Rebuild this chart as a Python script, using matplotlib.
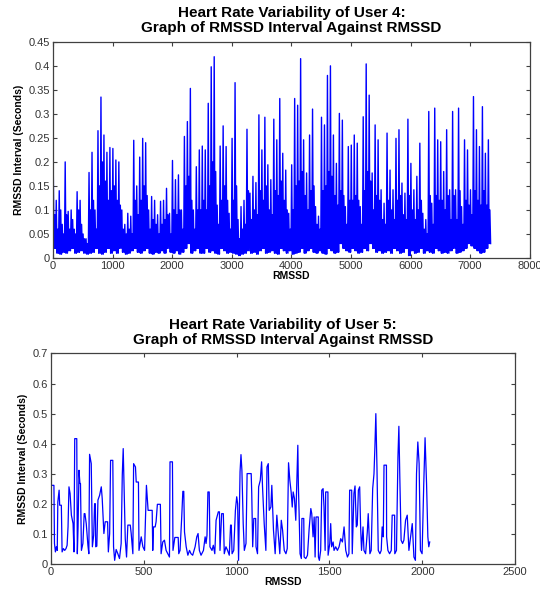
import numpy as np
import matplotlib
matplotlib.use("Agg")
import matplotlib.pyplot as plt

plt.rcParams['font.family'] = ['Liberation Sans', 'DejaVu Sans']

# ---------------- User 4: binned envelope (bins of 50 samples) ----------------
bin_width4 = 50
highs4 = [
    0.178, 0.12, 0.14, 0.07, 0.2, 0.097, 0.1, 0.06, 0.138, 0.12,
    0.05, 0.04, 0.178, 0.22, 0.1, 0.265, 0.335, 0.256, 0.22, 0.23,
    0.228, 0.204, 0.2, 0.1, 0.07, 0.093, 0.087, 0.245, 0.15, 0.21,
    0.249, 0.24, 0.1, 0.128, 0.12, 0.09, 0.118, 0.12, 0.145, 0.093,
    0.203, 0.163, 0.173, 0.1, 0.253, 0.284, 0.353, 0.1, 0.19, 0.225,
    0.233, 0.225, 0.322, 0.398, 0.419, 0.11, 0.233, 0.275, 0.232, 0.093,
    0.249, 0.365, 0.08, 0.107, 0.12, 0.268, 0.135, 0.17, 0.157, 0.298,
    0.225, 0.293, 0.194, 0.163, 0.289, 0.246, 0.332, 0.218, 0.183, 0.093,
    0.194, 0.332, 0.318, 0.415, 0.246, 0.177, 0.256, 0.31, 0.107, 0.087,
    0.293, 0.277, 0.38, 0.4, 0.256, 0.197, 0.301, 0.287, 0.107, 0.232,
    0.235, 0.256, 0.239, 0.107, 0.294, 0.404, 0.339, 0.177, 0.277, 0.246,
    0.142, 0.114, 0.26, 0.183, 0.142, 0.249, 0.267, 0.156, 0.135, 0.289,
    0.197, 0.142, 0.17, 0.239, 0.093, 0.08, 0.305, 0.114, 0.312, 0.246,
    0.242, 0.18, 0.267, 0.142, 0.305, 0.142, 0.312, 0.107, 0.246, 0.225,
    0.142, 0.336, 0.267, 0.232, 0.315, 0.218, 0.246,
]
lows4 = [
    0.02, 0.01, 0.008, 0.012, 0.01, 0.015, 0.02, 0.01, 0.012, 0.015,
    0.01, 0.008, 0.01, 0.012, 0.02, 0.01, 0.008, 0.012, 0.02, 0.01,
    0.015, 0.01, 0.02, 0.012, 0.008, 0.01, 0.015, 0.02, 0.012, 0.01,
    0.015, 0.02, 0.01, 0.008, 0.012, 0.01, 0.015, 0.01, 0.02, 0.012,
    0.01, 0.015, 0.008, 0.012, 0.02, 0.03, 0.01, 0.015, 0.02, 0.01,
    0.01, 0.02, 0.012, 0.015, 0.01, 0.008, 0.02, 0.015, 0.01, 0.012,
    0.01, 0.008, 0.005, 0.008, 0.01, 0.015, 0.01, 0.012, 0.008, 0.015,
    0.02, 0.01, 0.012, 0.015, 0.01, 0.008, 0.02, 0.015, 0.01, 0.015,
    0.008, 0.01, 0.012, 0.02, 0.01, 0.015, 0.02, 0.012, 0.01, 0.015,
    0.01, 0.008, 0.02, 0.015, 0.01, 0.012, 0.03, 0.02, 0.015, 0.012,
    0.02, 0.015, 0.01, 0.012, 0.02, 0.015, 0.03, 0.02, 0.012, 0.015,
    0.01, 0.012, 0.015, 0.01, 0.02, 0.015, 0.01, 0.012, 0.02, 0.005,
    0.015, 0.01, 0.012, 0.02, 0.01, 0.015, 0.012, 0.01, 0.02, 0.015,
    0.01, 0.012, 0.01, 0.015, 0.02, 0.01, 0.012, 0.015, 0.02, 0.03,
    0.025, 0.02, 0.015, 0.01, 0.012, 0.02, 0.03,
]
mids4 = [
    0.09, 0.06, 0.1, 0.05, 0.09, 0.06, 0.08, 0.05, 0.1, 0.07,
    0.04, 0.03, 0.1, 0.12, 0.06, 0.15, 0.2, 0.16, 0.12, 0.14,
    0.15, 0.12, 0.11, 0.06, 0.05, 0.06, 0.05, 0.12, 0.09, 0.12,
    0.15, 0.13, 0.06, 0.08, 0.07, 0.05, 0.07, 0.08, 0.09, 0.05,
    0.1, 0.09, 0.1, 0.06, 0.15, 0.17, 0.12, 0.06, 0.1, 0.1,
    0.12, 0.1, 0.15, 0.2, 0.18, 0.07, 0.12, 0.15, 0.12, 0.06,
    0.12, 0.15, 0.04, 0.06, 0.07, 0.14, 0.08, 0.1, 0.09, 0.14,
    0.12, 0.15, 0.1, 0.09, 0.14, 0.13, 0.16, 0.12, 0.1, 0.06,
    0.1, 0.15, 0.16, 0.18, 0.13, 0.1, 0.14, 0.15, 0.07, 0.06,
    0.14, 0.15, 0.18, 0.17, 0.13, 0.11, 0.14, 0.13, 0.07, 0.12,
    0.12, 0.13, 0.12, 0.07, 0.14, 0.18, 0.16, 0.1, 0.13, 0.12,
    0.08, 0.07, 0.12, 0.1, 0.08, 0.12, 0.13, 0.09, 0.08, 0.13,
    0.1, 0.08, 0.1, 0.12, 0.06, 0.05, 0.13, 0.07, 0.13, 0.12,
    0.12, 0.1, 0.13, 0.08, 0.13, 0.08, 0.14, 0.07, 0.12, 0.11,
    0.09, 0.14, 0.12, 0.11, 0.14, 0.11, 0.1,
]

# ---------------- User 5: vertices of the trace (sample index, value) ----------------
idx5 = [
    0, 3, 17, 20, 25, 30, 35, 38, 45, 48, 57, 61, 68, 75, 82, 88, 93, 98, 104, 111,
    120, 125, 129, 140, 143, 147, 152, 157, 160, 165, 173, 180, 184, 191, 200, 205, 209, 218, 224, 231,
    236, 240, 242, 248, 254, 263, 272, 277, 286, 293, 306, 310, 317, 322, 334, 338, 344, 352, 361, 370,
    379, 385, 390, 395, 401, 408, 415, 428, 433, 442, 446, 456, 460, 472, 475, 487, 496, 505, 515, 519,
    524, 546, 549, 553, 562, 567, 574, 590, 594, 603, 612, 621, 630, 639, 642, 655, 658, 668, 686, 689,
    696, 705, 711, 716, 720, 729, 738, 747, 755, 764, 777, 786, 793, 800, 809, 822, 831, 836, 841, 846,
    853, 857, 868, 875, 883, 890, 902, 908, 911, 920, 929, 934, 943, 952, 961, 968, 972, 976, 985, 994,
    1001, 1006, 1011, 1019, 1024, 1029, 1036, 1042, 1051, 1057, 1079, 1082, 1087, 1093, 1103, 1105, 1113, 1119, 1128, 1135,
    1140, 1149, 1158, 1164, 1171, 1176, 1185, 1190, 1199, 1208, 1217, 1226, 1233, 1241, 1248, 1257, 1266, 1273, 1280, 1287,
    1294, 1300, 1305, 1312, 1319, 1325, 1330, 1333, 1337, 1342, 1349, 1352, 1362, 1364, 1373, 1382, 1391, 1400, 1405, 1412,
    1418, 1423, 1428, 1440, 1441, 1446, 1453, 1459, 1466, 1471, 1477, 1480, 1492, 1493, 1502, 1507, 1512, 1520, 1525, 1534,
    1543, 1552, 1561, 1570, 1579, 1588, 1597, 1605, 1609, 1620, 1623, 1632, 1638, 1645, 1650, 1656, 1663, 1668, 1673, 1681,
    1686, 1695, 1704, 1709, 1718, 1725, 1733, 1740, 1745, 1750, 1756, 1763, 1772, 1779, 1784, 1790, 1794, 1807, 1808, 1815,
    1824, 1833, 1838, 1851, 1852, 1861, 1869, 1874, 1879, 1886, 1894, 1901, 1910, 1919, 1928, 1937, 1946, 1955, 1963, 1969,
    1976, 1983, 1990, 1999, 2008, 2015, 2023, 2030, 2035, 2040,
]
val5 = [
    0.03, 0.262, 0.262, 0.069, 0.041, 0.058, 0.046, 0.207, 0.246, 0.196, 0.196, 0.041, 0.052, 0.046, 0.052, 0.063, 0.124, 0.257, 0.235, 0.163,
    0.135, 0.041, 0.417, 0.417, 0.035, 0.124, 0.312, 0.268, 0.268, 0.046, 0.069, 0.168, 0.168, 0.135, 0.063, 0.035, 0.365, 0.334, 0.058, 0.096,
    0.201, 0.201, 0.058, 0.06, 0.213, 0.229, 0.257, 0.218, 0.102, 0.141, 0.141, 0.041, 0.102, 0.345, 0.345, 0.058, 0.013, 0.049, 0.035, 0.019,
    0.069, 0.296, 0.384, 0.246, 0.085, 0.024, 0.13, 0.13, 0.102, 0.035, 0.334, 0.323, 0.273, 0.273, 0.046, 0.091, 0.058, 0.046, 0.262, 0.224,
    0.179, 0.179, 0.046, 0.124, 0.124, 0.141, 0.199, 0.199, 0.035, 0.074, 0.08, 0.046, 0.035, 0.024, 0.34, 0.34, 0.046, 0.089, 0.089, 0.035,
    0.046, 0.157, 0.242, 0.242, 0.107, 0.058, 0.03, 0.046, 0.035, 0.03, 0.058, 0.091, 0.102, 0.046, 0.03, 0.046, 0.091, 0.069, 0.096, 0.24,
    0.24, 0.058, 0.046, 0.063, 0.035, 0.146, 0.174, 0.174, 0.046, 0.168, 0.168, 0.035, 0.058, 0.046, 0.03, 0.13, 0.13, 0.035, 0.046, 0.179,
    0.224, 0.201, 0.013, 0.307, 0.364, 0.312, 0.135, 0.046, 0.069, 0.301, 0.301, 0.235, 0.058, 0.152, 0.152, 0.058, 0.035, 0.257, 0.279, 0.34,
    0.257, 0.135, 0.046, 0.323, 0.334, 0.179, 0.19, 0.262, 0.113, 0.035, 0.163, 0.091, 0.035, 0.146, 0.113, 0.046, 0.035, 0.052, 0.337, 0.279,
    0.24, 0.19, 0.24, 0.218, 0.146, 0.28, 0.395, 0.262, 0.168, 0.035, 0.019, 0.152, 0.152, 0.024, 0.019, 0.03, 0.118, 0.185, 0.168, 0.091,
    0.157, 0.024, 0.157, 0.157, 0.024, 0.013, 0.046, 0.246, 0.251, 0.19, 0.046, 0.24, 0.24, 0.03, 0.069, 0.135, 0.058, 0.074, 0.046, 0.058,
    0.046, 0.058, 0.085, 0.074, 0.124, 0.046, 0.024, 0.035, 0.246, 0.246, 0.035, 0.235, 0.26, 0.124, 0.13, 0.246, 0.257, 0.124, 0.046, 0.124,
    0.046, 0.035, 0.107, 0.168, 0.035, 0.046, 0.251, 0.3, 0.39, 0.5, 0.323, 0.046, 0.035, 0.046, 0.124, 0.091, 0.329, 0.329, 0.091, 0.046,
    0.035, 0.046, 0.163, 0.163, 0.035, 0.046, 0.356, 0.458, 0.29, 0.08, 0.069, 0.08, 0.146, 0.163, 0.046, 0.091, 0.135, 0.024, 0.013, 0.301,
    0.406, 0.334, 0.046, 0.035, 0.268, 0.42, 0.268, 0.091, 0.058, 0.074,
]

title4 = "Heart Rate Variability of User 4:\nGraph of RMSSD Interval Against RMSSD"
title5 = "Heart Rate Variability of User 5:\nGraph of RMSSD Interval Against RMSSD"
xlabel = "RMSSD"
ylabel = "RMSSD Interval (Seconds)"
xticks4 = [0, 1000, 2000, 3000, 4000, 5000, 6000, 7000, 8000]
yticks4 = [0, 0.05, 0.1, 0.15, 0.2, 0.25, 0.3, 0.35, 0.4, 0.45]
xticks5 = [0, 500, 1000, 1500, 2000, 2500]
yticks5 = [0, 0.1, 0.2, 0.3, 0.4, 0.5, 0.6, 0.7]

# build user-4 trace from envelope bins: high, low, mid, low within each bin
n4 = len(highs4)
starts = np.arange(n4) * bin_width4
x4 = np.empty(4 * n4)
y4 = np.empty(4 * n4)
x4[0::4] = starts + 0.12 * bin_width4
x4[1::4] = starts + 0.37 * bin_width4
x4[2::4] = starts + 0.62 * bin_width4
x4[3::4] = starts + 0.87 * bin_width4
y4[0::4] = highs4
y4[1::4] = lows4
y4[2::4] = mids4
y4[3::4] = lows4

fig = plt.figure(figsize=(5.4, 5.89), dpi=100)
ax1 = fig.add_axes([0.098, 0.562, 0.883, 0.367])
ax2 = fig.add_axes([0.094, 0.042, 0.860, 0.358])

ax1.plot(x4, y4, color='#0000ff', lw=1.0)
ax2.plot(idx5, val5, color='#0000ff', lw=0.9)

frame_col = '#404040'
for ax, title, xt, yt in [(ax1, title4, xticks4, yticks4), (ax2, title5, xticks5, yticks5)]:
    ax.set_xlim(xt[0], xt[-1])
    ax.set_ylim(yt[0], yt[-1])
    ax.set_xticks(xt)
    ax.set_yticks(yt)
    ax.set_xticklabels([f"{v:g}" for v in xt])
    ax.set_yticklabels([f"{v:g}" for v in yt])
    ax.tick_params(direction='in', top=True, right=True, length=3, width=0.8,
                   labelsize=8, colors=frame_col, labelcolor='#333333', pad=2)
    for s in ax.spines.values():
        s.set_color(frame_col)
        s.set_linewidth(0.9)
    ax.set_title(title, fontsize=11, fontweight='bold', pad=7, linespacing=1.1)
    ax.set_xlabel(xlabel, fontsize=7.5, fontweight='bold', labelpad=0)
    ax.set_ylabel(ylabel, fontsize=7.5, fontweight='bold', labelpad=3)

fig.savefig("out.png", dpi=100)
